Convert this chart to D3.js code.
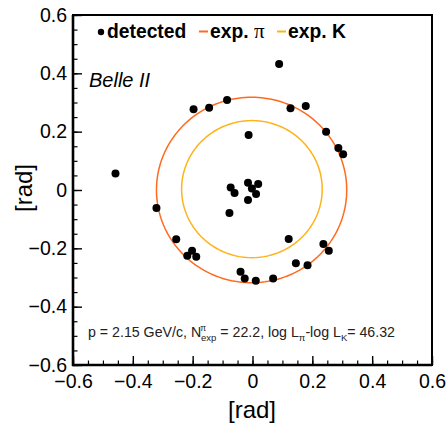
<!DOCTYPE html>
<meta charset="utf-8">
<style>
body { margin: 0; background: #fff; }
svg { font-family: "Liberation Sans", Arial, sans-serif; }
</style>
<script src="https://d3js.org/d3.v7.min.js"></script>
<svg width="448" height="426"></svg>
<script>
// detected photon angles (x, y) in rad
var detX = [-0.458, -0.321, -0.197, -0.145, -0.085, 0.089, 0.127, 0.178, -0.013, 0.246, 0.287, 0.303,
            -0.255, -0.202, -0.218, -0.188, -0.073, -0.060, -0.015, -0.002, 0.019, 0.012, -0.015, -0.077,
            0.121, 0.237, 0.255, 0.145, 0.184, -0.040, -0.026, 0.011, 0.069];
var detY = [0.057, -0.062, 0.277, 0.282, 0.309, 0.432, 0.280, 0.288, 0.189, 0.200, 0.144, 0.123,
            -0.169, -0.208, -0.225, -0.229, 0.009, -0.010, 0.025, 0.005, 0.021, -0.014, -0.034, -0.079,
            -0.168, -0.185, -0.208, -0.251, -0.258, -0.280, -0.303, -0.311, -0.303];
// expected rings: name, radius, centre
var ringNames = ["pi", "K"];
var ringRadius = [0.318, 0.235];
var ringCx = [-0.003, -0.002];
var ringCy = [0.0, 0.003];
var ringColor = ["#ff6a1f", "#ffb31a"];
var majorTicks = [-0.6, -0.4, -0.2, 0, 0.2, 0.4, 0.6];

var svg = d3.select("svg"),
    margin = {left: 73, top: 15, right: 16, bottom: 61},
    width = 448 - margin.left - margin.right,
    height = 426 - margin.top - margin.bottom;

var x = d3.scaleLinear().domain([-0.6, 0.6]).range([0, width]);
var y = d3.scaleLinear().domain([-0.6, 0.6]).range([height, 0]);

var g = svg.append("g").attr("transform", "translate(" + margin.left + "," + margin.top + ")");

var fmt = function(d) { return d === 0 ? "0" : d3.format(".1f")(d); };
var minor = x.ticks(24);

// minor ticks
g.append("g").attr("transform", "translate(0," + height + ")")
    .call(d3.axisBottom(x).tickValues(minor).tickSize(-4.5).tickFormat(""))
    .call(function(a) { a.select(".domain").remove(); a.selectAll("line").attr("stroke-width", 1.2); });
g.append("g")
    .call(d3.axisLeft(y).tickValues(minor).tickSize(-4.5).tickFormat(""))
    .call(function(a) { a.select(".domain").remove(); a.selectAll("line").attr("stroke-width", 1.2); });

// major ticks + labels
g.append("g").attr("transform", "translate(0," + height + ")")
    .call(d3.axisBottom(x).tickValues(majorTicks).tickSize(-9).tickPadding(9).tickFormat(fmt))
    .call(function(a) {
      a.select(".domain").remove();
      a.selectAll("line").attr("stroke-width", 1.4);
      a.selectAll("text").attr("font-size", 19.5).attr("fill", "#000").attr("font-family", "Liberation Sans, Arial, sans-serif");
    });
g.append("g")
    .call(d3.axisLeft(y).tickValues(majorTicks).tickSize(-9).tickPadding(6).tickFormat(fmt))
    .call(function(a) {
      a.select(".domain").remove();
      a.selectAll("line").attr("stroke-width", 1.4);
      a.selectAll("text").attr("font-size", 19.5).attr("fill", "#000").attr("font-family", "Liberation Sans, Arial, sans-serif");
    });

// frame
g.append("rect").attr("width", width).attr("height", height)
    .attr("fill", "none").attr("stroke", "#000").attr("stroke-width", 2);
g.append("line").attr("x1", 0).attr("x2", 0).attr("y1", 0).attr("y2", height + 1)
    .attr("stroke", "#000").attr("stroke-width", 2.6);
g.append("line").attr("x1", -1).attr("x2", width).attr("y1", height).attr("y2", height)
    .attr("stroke", "#000").attr("stroke-width", 2.6);

// rings
var circ = d3.range(0, 361, 2);
ringNames.forEach(function(n, i) {
  var line = d3.line()
      .x(function(t) { return x(ringCx[i] + ringRadius[i] * Math.cos(t * Math.PI / 180)); })
      .y(function(t) { return y(ringCy[i] + ringRadius[i] * Math.sin(t * Math.PI / 180)); });
  g.append("path").datum(circ).attr("d", line)
      .attr("fill", "none").attr("stroke", ringColor[i]).attr("stroke-width", 1.5);
});

// detected points
g.selectAll(".pt").data(detX).enter().append("circle")
    .attr("class", "pt")
    .attr("cx", function(d) { return x(d); })
    .attr("cy", function(d, i) { return y(detY[i]); })
    .attr("r", 4)
    .attr("fill", "#000");

// legend
var leg = svg.append("g").attr("font-size", 19.3).attr("font-weight", "bold");
leg.append("circle").attr("cx", 101).attr("cy", 32).attr("r", 3.2).attr("fill", "#000");
leg.append("text").attr("x", 107).attr("y", 38).text("detected");
leg.append("line").attr("x1", 199).attr("x2", 208).attr("y1", 31.5).attr("y2", 31.5)
    .attr("stroke", ringColor[0]).attr("stroke-width", 2);
var t1 = leg.append("text").attr("x", 210).attr("y", 38);
t1.append("tspan").text("exp. ");
t1.append("tspan").attr("font-weight", "normal").attr("font-family", "Liberation Serif, serif").attr("font-size", 21).text("\u03c0");
leg.append("line").attr("x1", 277).attr("x2", 286).attr("y1", 31.5).attr("y2", 31.5)
    .attr("stroke", ringColor[1]).attr("stroke-width", 2);
leg.append("text").attr("x", 288).attr("y", 38).text("exp. K");

// Belle II
svg.append("text").attr("x", 89).attr("y", 87).attr("font-size", 20)
    .attr("font-style", "italic").text("Belle II");

// info text
var info = svg.append("text").attr("x", 88).attr("y", 337).attr("font-size", 14.2).attr("fill", "#222");
info.append("tspan").text("p = 2.15 GeV/c, N");
info.append("tspan").attr("font-size", 8.5).attr("dy", -6).attr("dx", -1).text("\u03c0");
info.append("tspan").attr("font-size", 9.5).attr("dy", 10).attr("dx", -5).text("exp");
info.append("tspan").attr("dy", -4).text(" = 22.2, log L");
info.append("tspan").attr("font-size", 9.5).attr("dy", 4).text("\u03c0");
info.append("tspan").attr("dy", -4).text("-log L");
info.append("tspan").attr("font-size", 9.5).attr("dy", 4).text("K");
info.append("tspan").attr("dy", -4).text("= 46.32");

// axis titles
svg.append("text").attr("x", 252).attr("y", 418).attr("text-anchor", "middle")
    .attr("font-size", 24).text("[rad]");
svg.append("text").attr("transform", "translate(32,188) rotate(-90)").attr("text-anchor", "middle")
    .attr("font-size", 24).text("[rad]");
</script>
